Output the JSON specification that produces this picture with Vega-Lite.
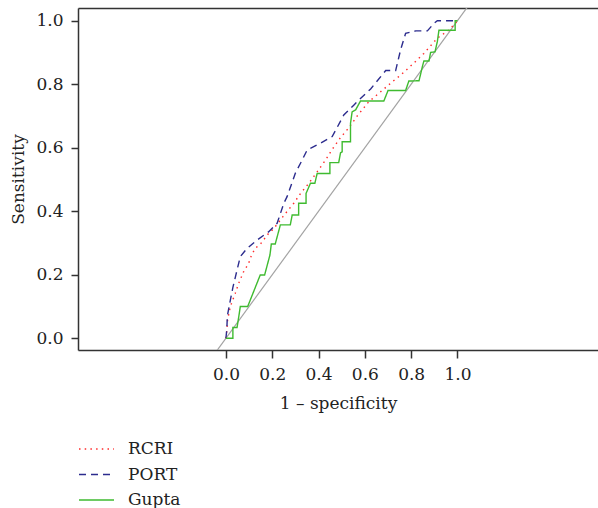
{
  "$schema": "https://vega.github.io/schema/vega-lite/v6.json",
  "width": 520,
  "height": 342,
  "autosize": {"type": "none"},
  "padding": {"left": 78, "top": 8, "right": 0, "bottom": 158},
  "background": "white",
  "config": {
    "font": "DejaVu Serif",
    "view": {"stroke": null},
    "axis": {
      "grid": false,
      "domainColor": "#333333",
      "domainWidth": 1.5,
      "tickColor": "#333333",
      "tickWidth": 1.5,
      "labelColor": "#222222",
      "titleColor": "#222222",
      "labelFontSize": 17,
      "titleFontSize": 17,
      "titleFontWeight": "normal",
      "labelFont": "DejaVu Serif",
      "titleFont": "DejaVu Serif"
    }
  },
  "datasets": {
    "diag": [
      {"fpr": -0.1, "tpr": -0.1},
      {"fpr": 1.2, "tpr": 1.2}
    ],
    "roc": [
      {"model": "RCRI", "i": 0, "fpr": 0, "tpr": 0},
      {"model": "RCRI", "i": 1, "fpr": 0.004, "tpr": 0.026},
      {"model": "RCRI", "i": 2, "fpr": 0.007, "tpr": 0.057},
      {"model": "RCRI", "i": 3, "fpr": 0.019, "tpr": 0.1},
      {"model": "RCRI", "i": 4, "fpr": 0.04, "tpr": 0.141},
      {"model": "RCRI", "i": 5, "fpr": 0.055, "tpr": 0.173},
      {"model": "RCRI", "i": 6, "fpr": 0.076, "tpr": 0.209},
      {"model": "RCRI", "i": 7, "fpr": 0.098, "tpr": 0.236},
      {"model": "RCRI", "i": 8, "fpr": 0.113, "tpr": 0.267},
      {"model": "RCRI", "i": 9, "fpr": 0.134, "tpr": 0.288},
      {"model": "RCRI", "i": 10, "fpr": 0.148, "tpr": 0.296},
      {"model": "RCRI", "i": 11, "fpr": 0.184, "tpr": 0.33},
      {"model": "RCRI", "i": 12, "fpr": 0.206, "tpr": 0.345},
      {"model": "RCRI", "i": 13, "fpr": 0.257, "tpr": 0.393},
      {"model": "RCRI", "i": 14, "fpr": 0.293, "tpr": 0.425},
      {"model": "RCRI", "i": 15, "fpr": 0.322, "tpr": 0.456},
      {"model": "RCRI", "i": 16, "fpr": 0.358, "tpr": 0.488},
      {"model": "RCRI", "i": 17, "fpr": 0.394, "tpr": 0.524},
      {"model": "RCRI", "i": 18, "fpr": 0.43, "tpr": 0.561},
      {"model": "RCRI", "i": 19, "fpr": 0.459, "tpr": 0.595},
      {"model": "RCRI", "i": 20, "fpr": 0.495, "tpr": 0.632},
      {"model": "RCRI", "i": 21, "fpr": 0.531, "tpr": 0.663},
      {"model": "RCRI", "i": 22, "fpr": 0.567, "tpr": 0.7},
      {"model": "RCRI", "i": 23, "fpr": 0.617, "tpr": 0.745},
      {"model": "RCRI", "i": 24, "fpr": 0.668, "tpr": 0.776},
      {"model": "RCRI", "i": 25, "fpr": 0.719, "tpr": 0.808},
      {"model": "RCRI", "i": 26, "fpr": 0.755, "tpr": 0.829},
      {"model": "RCRI", "i": 27, "fpr": 0.805, "tpr": 0.862},
      {"model": "RCRI", "i": 28, "fpr": 0.855, "tpr": 0.897},
      {"model": "RCRI", "i": 29, "fpr": 0.913, "tpr": 0.945},
      {"model": "RCRI", "i": 30, "fpr": 0.964, "tpr": 0.971},
      {"model": "RCRI", "i": 31, "fpr": 1.0, "tpr": 1.0},
      {"model": "PORT", "i": 0, "fpr": 0, "tpr": 0},
      {"model": "PORT", "i": 1, "fpr": 0.004, "tpr": 0.03},
      {"model": "PORT", "i": 2, "fpr": 0.006, "tpr": 0.07},
      {"model": "PORT", "i": 3, "fpr": 0.019, "tpr": 0.12},
      {"model": "PORT", "i": 4, "fpr": 0.03, "tpr": 0.16},
      {"model": "PORT", "i": 5, "fpr": 0.048, "tpr": 0.215},
      {"model": "PORT", "i": 6, "fpr": 0.062, "tpr": 0.257},
      {"model": "PORT", "i": 7, "fpr": 0.091, "tpr": 0.283},
      {"model": "PORT", "i": 8, "fpr": 0.134, "tpr": 0.309},
      {"model": "PORT", "i": 9, "fpr": 0.184, "tpr": 0.335},
      {"model": "PORT", "i": 10, "fpr": 0.221, "tpr": 0.362},
      {"model": "PORT", "i": 11, "fpr": 0.25, "tpr": 0.425},
      {"model": "PORT", "i": 12, "fpr": 0.264, "tpr": 0.446},
      {"model": "PORT", "i": 13, "fpr": 0.3, "tpr": 0.52},
      {"model": "PORT", "i": 14, "fpr": 0.322, "tpr": 0.551},
      {"model": "PORT", "i": 15, "fpr": 0.351, "tpr": 0.593},
      {"model": "PORT", "i": 16, "fpr": 0.408, "tpr": 0.614},
      {"model": "PORT", "i": 17, "fpr": 0.459, "tpr": 0.635},
      {"model": "PORT", "i": 18, "fpr": 0.509, "tpr": 0.703},
      {"model": "PORT", "i": 19, "fpr": 0.552, "tpr": 0.734},
      {"model": "PORT", "i": 20, "fpr": 0.574, "tpr": 0.75},
      {"model": "PORT", "i": 21, "fpr": 0.625, "tpr": 0.785},
      {"model": "PORT", "i": 22, "fpr": 0.69, "tpr": 0.843},
      {"model": "PORT", "i": 23, "fpr": 0.733, "tpr": 0.843},
      {"model": "PORT", "i": 24, "fpr": 0.755, "tpr": 0.91},
      {"model": "PORT", "i": 25, "fpr": 0.776, "tpr": 0.96},
      {"model": "PORT", "i": 26, "fpr": 0.82, "tpr": 0.968},
      {"model": "PORT", "i": 27, "fpr": 0.87, "tpr": 0.968},
      {"model": "PORT", "i": 28, "fpr": 0.899, "tpr": 0.992},
      {"model": "PORT", "i": 29, "fpr": 0.913, "tpr": 1.0},
      {"model": "PORT", "i": 30, "fpr": 1.0, "tpr": 1.0},
      {"model": "Gupta", "i": 0, "fpr": 0, "tpr": 0},
      {"model": "Gupta", "i": 1, "fpr": 0.03, "tpr": 0},
      {"model": "Gupta", "i": 2, "fpr": 0.03, "tpr": 0.034},
      {"model": "Gupta", "i": 3, "fpr": 0.048, "tpr": 0.034},
      {"model": "Gupta", "i": 4, "fpr": 0.055, "tpr": 0.066},
      {"model": "Gupta", "i": 5, "fpr": 0.062, "tpr": 0.1},
      {"model": "Gupta", "i": 6, "fpr": 0.094, "tpr": 0.1},
      {"model": "Gupta", "i": 7, "fpr": 0.148, "tpr": 0.199},
      {"model": "Gupta", "i": 8, "fpr": 0.167, "tpr": 0.199},
      {"model": "Gupta", "i": 9, "fpr": 0.19, "tpr": 0.262},
      {"model": "Gupta", "i": 10, "fpr": 0.196, "tpr": 0.297},
      {"model": "Gupta", "i": 11, "fpr": 0.213, "tpr": 0.297},
      {"model": "Gupta", "i": 12, "fpr": 0.235, "tpr": 0.357},
      {"model": "Gupta", "i": 13, "fpr": 0.278, "tpr": 0.357},
      {"model": "Gupta", "i": 14, "fpr": 0.286, "tpr": 0.388},
      {"model": "Gupta", "i": 15, "fpr": 0.314, "tpr": 0.388},
      {"model": "Gupta", "i": 16, "fpr": 0.314, "tpr": 0.425},
      {"model": "Gupta", "i": 17, "fpr": 0.346, "tpr": 0.425},
      {"model": "Gupta", "i": 18, "fpr": 0.346, "tpr": 0.456},
      {"model": "Gupta", "i": 19, "fpr": 0.365, "tpr": 0.488},
      {"model": "Gupta", "i": 20, "fpr": 0.384, "tpr": 0.488},
      {"model": "Gupta", "i": 21, "fpr": 0.394, "tpr": 0.519},
      {"model": "Gupta", "i": 22, "fpr": 0.449, "tpr": 0.519},
      {"model": "Gupta", "i": 23, "fpr": 0.449, "tpr": 0.553},
      {"model": "Gupta", "i": 24, "fpr": 0.487, "tpr": 0.553},
      {"model": "Gupta", "i": 25, "fpr": 0.495, "tpr": 0.584},
      {"model": "Gupta", "i": 26, "fpr": 0.502, "tpr": 0.587},
      {"model": "Gupta", "i": 27, "fpr": 0.502, "tpr": 0.619},
      {"model": "Gupta", "i": 28, "fpr": 0.538, "tpr": 0.619},
      {"model": "Gupta", "i": 29, "fpr": 0.538, "tpr": 0.677},
      {"model": "Gupta", "i": 30, "fpr": 0.545, "tpr": 0.713},
      {"model": "Gupta", "i": 31, "fpr": 0.56, "tpr": 0.719},
      {"model": "Gupta", "i": 32, "fpr": 0.581, "tpr": 0.747},
      {"model": "Gupta", "i": 33, "fpr": 0.682, "tpr": 0.747},
      {"model": "Gupta", "i": 34, "fpr": 0.7, "tpr": 0.78},
      {"model": "Gupta", "i": 35, "fpr": 0.776, "tpr": 0.78},
      {"model": "Gupta", "i": 36, "fpr": 0.79, "tpr": 0.81},
      {"model": "Gupta", "i": 37, "fpr": 0.834, "tpr": 0.811},
      {"model": "Gupta", "i": 38, "fpr": 0.85, "tpr": 0.86},
      {"model": "Gupta", "i": 39, "fpr": 0.855, "tpr": 0.873},
      {"model": "Gupta", "i": 40, "fpr": 0.877, "tpr": 0.873},
      {"model": "Gupta", "i": 41, "fpr": 0.884, "tpr": 0.9},
      {"model": "Gupta", "i": 42, "fpr": 0.903, "tpr": 0.902},
      {"model": "Gupta", "i": 43, "fpr": 0.913, "tpr": 0.934},
      {"model": "Gupta", "i": 44, "fpr": 0.92, "tpr": 0.97},
      {"model": "Gupta", "i": 45, "fpr": 0.99, "tpr": 0.97},
      {"model": "Gupta", "i": 46, "fpr": 0.99, "tpr": 1.0},
      {"model": "Gupta", "i": 47, "fpr": 1.0, "tpr": 1.0}
    ]
  },
  "layer": [
    {
      "data": {"name": "diag"},
      "mark": {"type": "line", "color": "#a3a3a3", "strokeWidth": 1.2, "clip": true},
      "encoding": {
        "x": {
          "field": "fpr", "type": "quantitative",
          "scale": {"domain": [-0.639, 1.607], "nice": false, "zero": false},
          "axis": {
            "values": [0, 0.2, 0.4, 0.6, 0.8, 1.0],
            "format": ".1f",
            "tickSize": 8,
            "labelPadding": 8,
            "title": "1 – specificity",
            "titlePadding": 13
          }
        },
        "y": {
          "field": "tpr", "type": "quantitative",
          "scale": {"domain": [-0.037, 1.04], "nice": false, "zero": false},
          "axis": {
            "values": [0, 0.2, 0.4, 0.6, 0.8, 1.0],
            "format": ".1f",
            "tickSize": 7,
            "labelPadding": 8,
            "title": "Sensitivity",
            "titlePadding": 8
          }
        }
      }
    },
    {
      "data": {"name": "roc"},
      "mark": {"type": "line", "strokeWidth": 1.4, "clip": true},
      "encoding": {
        "x": {
          "field": "fpr", "type": "quantitative",
          "scale": {"domain": [-0.639, 1.607], "nice": false, "zero": false},
          "axis": {"orient": "top", "labels": false, "ticks": false, "title": null, "domain": true}
        },
        "y": {"field": "tpr", "type": "quantitative"},
        "order": {"field": "i", "type": "quantitative"},
        "color": {
          "field": "model", "type": "nominal",
          "scale": {"domain": ["RCRI", "PORT", "Gupta"], "range": ["#ff2b2b", "#2c2c8e", "#3fbb30"]},
          "legend": {
            "orient": "none", "legendX": 0, "legendY": 431, "title": null,
            "direction": "vertical",
            "symbolType": "stroke", "symbolSize": 1225, "symbolStrokeWidth": 1.4,
            "labelFontSize": 17, "labelFont": "DejaVu Serif", "labelColor": "#222222",
            "labelOffset": 13, "clipHeight": 20, "rowPadding": 5.5, "padding": 0
          }
        },
        "strokeDash": {
          "field": "model", "type": "nominal",
          "scale": {"domain": ["RCRI", "PORT", "Gupta"], "range": [[1.5, 4.2], [7, 5], [1, 0]]},
          "legend": {
            "orient": "none", "legendX": 0, "legendY": 431, "title": null,
            "direction": "vertical",
            "symbolType": "stroke", "symbolSize": 1225, "symbolStrokeWidth": 1.4,
            "labelFontSize": 17, "labelFont": "DejaVu Serif", "labelColor": "#222222",
            "labelOffset": 13, "clipHeight": 20, "rowPadding": 5.5, "padding": 0
          }
        }
      }
    }
  ],
  "resolve": {"axis": {"x": "independent"}}
}
